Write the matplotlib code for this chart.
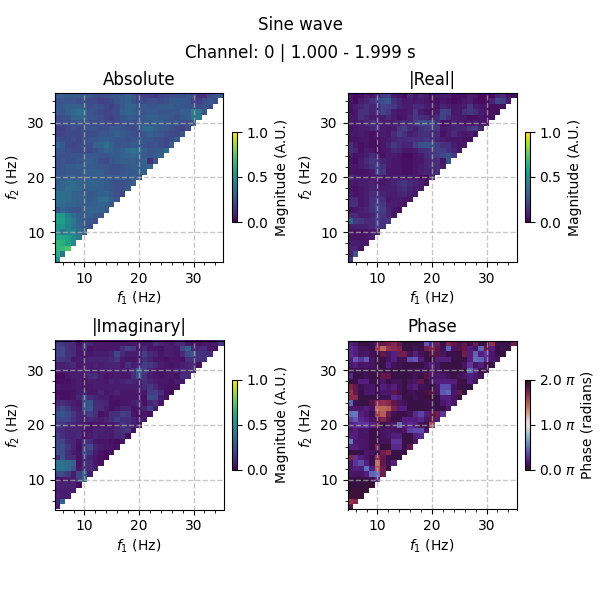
import numpy as np
import matplotlib
matplotlib.use("Agg")
import matplotlib.pyplot as plt

# Waveshape spectra, one list per f2 row (f2 = 5 ... 35 Hz), each holding f1 = 5 ... f2.
# Magnitudes are in hundredths of an A.U.; phases in hundredths of a full cycle.
FREQS = list(range(5, 36))

absolute_rows = [
    [50],
    [62, 38],
    [66, 66, 72],
    [66, 64, 56, 48],
    [58, 60, 56, 48, 40],
    [50, 38, 44, 44, 36, 30],
    [50, 52, 44, 38, 32, 28, 24],
    [56, 56, 46, 40, 32, 28, 26, 24],
    [54, 54, 42, 36, 30, 28, 30, 28, 26],
    [26, 32, 28, 26, 26, 30, 32, 32, 30, 28],
    [34, 34, 32, 32, 30, 28, 30, 30, 32, 30, 26],
    [36, 36, 34, 32, 30, 30, 28, 30, 34, 36, 30, 26],
    [36, 36, 34, 32, 30, 30, 28, 28, 30, 32, 28, 24, 20],
    [30, 32, 36, 34, 34, 28, 30, 30, 30, 28, 26, 24, 24, 28],
    [28, 32, 34, 34, 32, 30, 32, 32, 30, 28, 26, 24, 24, 26, 30],
    [28, 28, 30, 30, 28, 28, 30, 30, 30, 28, 28, 28, 28, 28, 30, 24],
    [26, 26, 28, 28, 28, 30, 30, 30, 30, 26, 24, 24, 26, 28, 28, 30, 30],
    [24, 26, 28, 28, 30, 30, 28, 28, 26, 26, 24, 24, 26, 28, 30, 30, 30, 32],
    [24, 26, 24, 24, 26, 28, 30, 28, 24, 22, 26, 28, 30, 30, 30, 28, 32, 14, 26],
    [26, 24, 24, 26, 26, 26, 28, 28, 26, 26, 28, 28, 32, 32, 34, 32, 28, 26, 28, 32],
    [26, 26, 24, 22, 22, 22, 22, 24, 28, 32, 30, 28, 30, 36, 38, 34, 30, 26, 28, 28, 34],
    [32, 28, 22, 20, 22, 24, 24, 30, 32, 36, 30, 26, 26, 26, 28, 28, 26, 24, 26, 24, 20, 30],
    [24, 22, 22, 24, 20, 24, 26, 26, 28, 30, 28, 26, 26, 24, 26, 28, 26, 26, 24, 24, 20, 24, 28],
    [20, 20, 22, 22, 22, 24, 24, 24, 26, 26, 28, 30, 28, 26, 24, 22, 28, 30, 28, 26, 24, 22, 20, 26],
    [18, 18, 22, 24, 22, 24, 26, 26, 24, 24, 28, 28, 26, 24, 22, 24, 34, 34, 30, 28, 26, 24, 22, 18, 24],
    [22, 24, 24, 26, 26, 24, 24, 24, 24, 22, 20, 22, 24, 26, 24, 26, 28, 28, 30, 30, 26, 26, 26, 24, 24, 28],
    [22, 24, 26, 32, 32, 30, 26, 26, 24, 20, 18, 22, 26, 28, 28, 26, 28, 30, 30, 28, 28, 26, 24, 28, 30, 38, 40],
    [26, 26, 30, 34, 36, 34, 26, 24, 22, 20, 20, 22, 30, 32, 30, 28, 26, 28, 28, 26, 26, 26, 26, 30, 30, 42, 40, 26],
    [26, 28, 30, 30, 30, 28, 24, 26, 24, 22, 18, 22, 28, 32, 32, 26, 28, 26, 26, 28, 28, 30, 28, 26, 26, 24, 22, 26, 24],
    [24, 26, 26, 26, 24, 24, 22, 22, 18, 20, 22, 26, 28, 30, 26, 22, 22, 24, 24, 22, 24, 28, 28, 28, 26, 18, 18, 24, 26, 24],
    [30, 30, 28, 28, 28, 28, 26, 24, 22, 24, 26, 26, 28, 30, 28, 20, 18, 18, 16, 20, 22, 24, 24, 24, 26, 24, 14, 14, 24, 26, 28],
]

real_rows = [
    [14],
    [8, 26],
    [9, 10, 5],
    [8, 8, 7, 6],
    [6, 5, 5, 6, 8],
    [5, 4, 4, 5, 6, 8],
    [8, 9, 9, 10, 12, 18, 14],
    [30, 16, 16, 12, 12, 18, 14, 16],
    [12, 12, 8, 8, 10, 16, 16, 10, 6],
    [5, 6, 8, 10, 14, 20, 18, 10, 6, 4],
    [14, 14, 6, 8, 14, 20, 16, 8, 8, 6, 5],
    [12, 12, 6, 8, 14, 16, 14, 6, 8, 8, 6, 6],
    [8, 5, 6, 8, 12, 12, 10, 8, 8, 10, 12, 8, 6],
    [5, 4, 6, 8, 10, 8, 8, 8, 8, 12, 14, 10, 8, 7],
    [8, 6, 8, 8, 10, 6, 6, 8, 10, 14, 16, 12, 10, 8, 5],
    [12, 8, 6, 6, 6, 6, 6, 6, 8, 8, 8, 6, 6, 4, 3, 10],
    [5, 5, 5, 5, 8, 18, 16, 6, 6, 6, 4, 4, 6, 8, 10, 10, 14],
    [6, 6, 8, 10, 14, 20, 14, 8, 6, 6, 4, 4, 6, 8, 10, 14, 12, 8],
    [5, 3, 8, 12, 16, 14, 10, 8, 6, 6, 4, 4, 6, 6, 10, 12, 14, 5, 26],
    [8, 5, 6, 8, 12, 8, 4, 8, 8, 6, 3, 3, 6, 8, 12, 16, 18, 20, 24, 16],
    [14, 10, 4, 8, 6, 3, 6, 8, 12, 10, 6, 6, 8, 12, 14, 16, 18, 18, 14, 10, 6],
    [14, 6, 4, 6, 4, 3, 6, 10, 16, 14, 10, 10, 18, 24, 26, 24, 18, 14, 14, 8, 6, 6],
    [5, 5, 6, 6, 4, 3, 6, 8, 10, 12, 12, 14, 14, 14, 16, 14, 10, 8, 6, 6, 6, 5, 4],
    [6, 6, 8, 6, 4, 6, 8, 6, 12, 18, 14, 8, 10, 14, 14, 12, 12, 4, 8, 12, 8, 6, 8, 4],
    [4, 6, 8, 8, 10, 14, 8, 6, 8, 16, 18, 12, 8, 14, 16, 16, 16, 6, 8, 10, 10, 10, 16, 18, 10],
    [6, 6, 8, 10, 14, 10, 8, 8, 8, 10, 14, 10, 18, 22, 22, 20, 14, 4, 4, 10, 8, 6, 6, 8, 6, 4],
    [6, 6, 14, 10, 8, 8, 8, 12, 8, 4, 6, 10, 16, 14, 12, 8, 14, 20, 14, 8, 6, 6, 4, 4, 6, 4, 4],
    [4, 6, 14, 14, 10, 14, 20, 16, 8, 6, 6, 8, 16, 8, 5, 4, 8, 20, 18, 6, 6, 14, 16, 14, 8, 6, 4, 4],
    [5, 8, 10, 14, 10, 12, 20, 18, 16, 10, 8, 8, 12, 12, 8, 6, 4, 10, 8, 6, 6, 8, 16, 8, 6, 5, 4, 4, 4],
    [5, 3, 8, 10, 14, 18, 24, 28, 14, 10, 6, 8, 6, 8, 6, 4, 4, 6, 5, 3, 4, 6, 8, 4, 3, 3, 10, 20, 18, 8],
    [6, 3, 4, 8, 6, 10, 16, 18, 8, 6, 3, 10, 6, 10, 8, 4, 6, 8, 8, 4, 4, 4, 8, 6, 3, 4, 3, 10, 12, 4, 3],
]

imaginary_rows = [
    [8],
    [10, 30],
    [9, 8, 8],
    [8, 8, 8, 8],
    [10, 9, 9, 9, 3],
    [6, 6, 7, 8, 18, 32],
    [22, 22, 16, 8, 20, 30, 8],
    [40, 38, 34, 26, 6, 14, 12, 8],
    [38, 36, 34, 30, 5, 12, 12, 6, 4],
    [12, 24, 14, 12, 5, 14, 10, 6, 4, 3],
    [24, 22, 14, 8, 5, 22, 16, 8, 5, 3, 5],
    [20, 24, 16, 10, 4, 16, 22, 10, 8, 6, 5, 4],
    [20, 20, 12, 10, 5, 14, 12, 6, 5, 6, 4, 3, 6],
    [18, 14, 10, 10, 12, 4, 8, 10, 8, 8, 6, 10, 12, 3],
    [14, 12, 10, 10, 10, 6, 6, 10, 10, 8, 8, 12, 14, 16, 4],
    [16, 16, 12, 10, 8, 6, 5, 6, 6, 6, 6, 8, 16, 14, 8, 6],
    [22, 22, 20, 14, 10, 8, 12, 10, 8, 10, 14, 18, 14, 14, 10, 8, 6],
    [24, 26, 22, 16, 10, 14, 18, 14, 4, 6, 14, 14, 18, 16, 6, 4, 6, 4],
    [16, 22, 16, 10, 8, 24, 28, 14, 12, 8, 4, 6, 10, 10, 5, 6, 10, 18, 8],
    [10, 14, 10, 8, 6, 22, 26, 12, 12, 10, 5, 4, 6, 6, 8, 12, 4, 10, 14, 6],
    [6, 4, 4, 5, 10, 22, 12, 10, 8, 8, 5, 6, 6, 6, 6, 6, 4, 22, 20, 8, 4],
    [4, 4, 4, 5, 8, 10, 6, 6, 10, 6, 8, 10, 6, 6, 6, 8, 6, 18, 18, 12, 4, 3],
    [8, 6, 6, 6, 8, 5, 6, 8, 8, 8, 8, 8, 8, 8, 8, 8, 12, 16, 12, 6, 5, 4, 4],
    [4, 4, 4, 6, 8, 4, 8, 8, 8, 6, 10, 8, 10, 12, 10, 8, 14, 10, 8, 6, 6, 4, 8, 6],
    [3, 3, 6, 8, 8, 6, 12, 14, 8, 5, 6, 8, 6, 6, 14, 24, 14, 8, 6, 5, 6, 6, 4, 12, 12],
    [8, 8, 8, 8, 8, 8, 8, 6, 8, 8, 8, 8, 8, 8, 12, 28, 18, 10, 6, 4, 6, 6, 8, 10, 10, 14],
    [8, 8, 10, 12, 6, 8, 8, 10, 8, 10, 10, 10, 6, 14, 8, 10, 18, 16, 12, 8, 6, 5, 6, 8, 10, 12, 4],
    [16, 16, 14, 6, 8, 8, 10, 10, 10, 10, 12, 16, 8, 6, 6, 8, 14, 10, 6, 6, 4, 6, 6, 4, 14, 14, 14, 14],
    [20, 22, 14, 12, 6, 6, 6, 8, 8, 8, 10, 20, 12, 8, 8, 8, 18, 12, 10, 6, 8, 8, 6, 12, 22, 26, 14, 14, 12],
    [18, 20, 14, 12, 6, 14, 4, 6, 6, 6, 6, 6, 14, 18, 16, 6, 12, 6, 6, 4, 8, 8, 6, 20, 30, 10, 10, 12, 6, 4],
    [16, 16, 14, 12, 4, 14, 10, 6, 6, 6, 6, 6, 6, 6, 6, 8, 6, 6, 14, 10, 8, 6, 10, 12, 6, 4, 4, 6, 6, 6, 16],
]

phase_rows = [
    [92],
    [82, 85],
    [96, 96, 96],
    [97, 97, 97, 97],
    [2, 2, 2, 98, 98],
    [3, 3, 3, 3, 4, 12],
    [8, 7, 7, 10, 22, 24, 88],
    [8, 10, 10, 24, 10, 75, 88, 96],
    [8, 14, 18, 10, 4, 72, 90, 5, 10],
    [85, 14, 10, 8, 4, 82, 90, 4, 3, 3],
    [3, 3, 3, 8, 7, 3, 88, 84, 3, 3, 3],
    [10, 10, 8, 7, 4, 88, 3, 3, 12, 12, 4, 90],
    [26, 8, 8, 7, 4, 3, 6, 6, 14, 14, 4, 96, 8],
    [10, 10, 7, 7, 4, 3, 6, 8, 10, 10, 3, 3, 10, 12],
    [8, 10, 7, 8, 4, 4, 7, 8, 7, 6, 8, 16, 18, 18, 8],
    [10, 12, 14, 14, 10, 90, 4, 6, 8, 24, 10, 12, 10, 6, 4, 78],
    [16, 20, 12, 10, 7, 92, 86, 92, 4, 4, 10, 10, 10, 12, 7, 90, 10],
    [24, 26, 10, 8, 4, 80, 74, 88, 5, 4, 4, 6, 12, 16, 10, 90, 88, 14],
    [8, 8, 8, 10, 7, 72, 72, 74, 86, 10, 10, 3, 3, 3, 3, 5, 3, 3, 8],
    [22, 5, 3, 3, 92, 84, 82, 84, 90, 7, 6, 3, 3, 3, 4, 5, 3, 8, 10, 8],
    [84, 84, 3, 3, 3, 3, 5, 5, 12, 10, 3, 3, 6, 4, 96, 96, 3, 10, 10, 7, 3],
    [82, 90, 3, 8, 8, 3, 8, 8, 90, 6, 3, 5, 5, 4, 94, 92, 7, 20, 22, 8, 90, 3],
    [86, 90, 5, 7, 8, 3, 10, 8, 10, 6, 3, 8, 10, 5, 5, 3, 8, 18, 18, 7, 3, 3, 3],
    [3, 3, 10, 10, 4, 3, 8, 4, 6, 6, 3, 6, 8, 90, 3, 8, 10, 10, 10, 10, 95, 3, 10, 7],
    [12, 3, 3, 6, 3, 3, 90, 90, 3, 3, 3, 3, 6, 3, 92, 8, 8, 8, 6, 3, 6, 7, 10, 8, 6],
    [3, 5, 5, 5, 4, 3, 4, 3, 3, 3, 3, 4, 4, 6, 5, 8, 7, 4, 4, 3, 3, 3, 22, 12, 4, 4],
    [8, 10, 7, 8, 7, 3, 3, 10, 6, 5, 3, 3, 3, 3, 7, 10, 7, 3, 3, 3, 3, 7, 14, 7, 10, 4, 3],
    [10, 20, 14, 20, 7, 3, 3, 7, 10, 5, 6, 18, 20, 10, 3, 3, 10, 10, 10, 3, 3, 3, 10, 24, 22, 12, 8, 7],
    [12, 10, 7, 8, 5, 3, 90, 7, 10, 88, 88, 6, 10, 6, 3, 92, 92, 7, 4, 4, 3, 88, 10, 22, 10, 14, 8, 4, 3],
    [12, 10, 6, 6, 4, 82, 72, 82, 84, 86, 3, 3, 6, 4, 88, 86, 90, 5, 22, 7, 92, 90, 10, 7, 22, 90, 10, 3, 5, 3],
    [10, 8, 3, 3, 5, 90, 90, 88, 85, 90, 3, 3, 3, 3, 20, 10, 88, 4, 86, 90, 6, 90, 4, 88, 3, 3, 82, 5, 4, 4, 88],
]

PANEL_TITLES = ["Absolute", "|Real|", "|Imaginary|", "Phase"]
TITLE_MAIN = "Sine wave"
TITLE_SUB = "Channel: 0 | 1.000 - 1.999 s"


def to_matrix(rows, scale):
    grid = np.full((len(FREQS), len(FREQS)), np.nan)
    for i, row in enumerate(rows):
        grid[i, :len(row)] = np.asarray(row, dtype=float) * scale
    return grid


W, H = 600, 600
fig = plt.figure(figsize=(W / 100, H / 100), dpi=100)
fig.text(0.5, 1 - 25.5 / H, TITLE_MAIN, ha="center", va="center", fontsize=12)
fig.text(0.5, 1 - 52.5 / H, TITLE_SUB, ha="center", va="center", fontsize=12)

panel_boxes = [(54.5, 93), (347.5, 93), (54.5, 340.5), (347.5, 340.5)]
panel_data = [
    to_matrix(absolute_rows, 0.01),
    to_matrix(real_rows, 0.01),
    to_matrix(imaginary_rows, 0.01),
    to_matrix(phase_rows, 0.01 * 2 * np.pi),
]
SIDE = 169

for k, ((x0, y0), title, grid) in enumerate(zip(panel_boxes, PANEL_TITLES, panel_data)):
    ax = fig.add_axes([x0 / W, 1 - (y0 + SIDE) / H, SIDE / W, SIDE / H])
    is_phase = k == 3
    mesh = ax.pcolormesh(
        FREQS, FREQS, grid, shading="nearest",
        cmap="twilight_shifted" if is_phase else "viridis",
        vmin=0, vmax=2 * np.pi if is_phase else 1,
    )
    ax.set_aspect("equal")
    ax.set_title(title, fontsize=12, pad=6)
    ax.set_xlabel(r"$f_1$ (Hz)", fontsize=10, labelpad=3)
    ax.set_ylabel(r"$f_2$ (Hz)", fontsize=10)
    ax.set_xticks([10, 20, 30])
    ax.set_yticks([10, 20, 30])
    ax.set_xticks(np.arange(6, 36, 2), minor=True)
    ax.set_yticks(np.arange(6, 36, 2), minor=True)
    ax.set_axisbelow(False)
    ax.grid(True, which="major", color="#b0b0b0", linestyle="--", linewidth=1, alpha=0.7)

    cax = fig.add_axes([(x0 + 177.5) / W, 1 - (y0 + 129) / H, 4.5 / W, 90 / H])
    cbar = fig.colorbar(mesh, cax=cax)
    if is_phase:
        cbar.set_ticks([0, np.pi, 2 * np.pi])
        cbar.set_ticklabels([r"0.0 $\pi$", r"1.0 $\pi$", r"2.0 $\pi$"])
        cbar.set_label("Phase (radians)", fontsize=10, labelpad=3)
    else:
        cbar.set_ticks([0, 0.5, 1])
        cbar.set_label("Magnitude (A.U.)", fontsize=10, labelpad=5)

fig.savefig("out.png", dpi=100, facecolor="white")
